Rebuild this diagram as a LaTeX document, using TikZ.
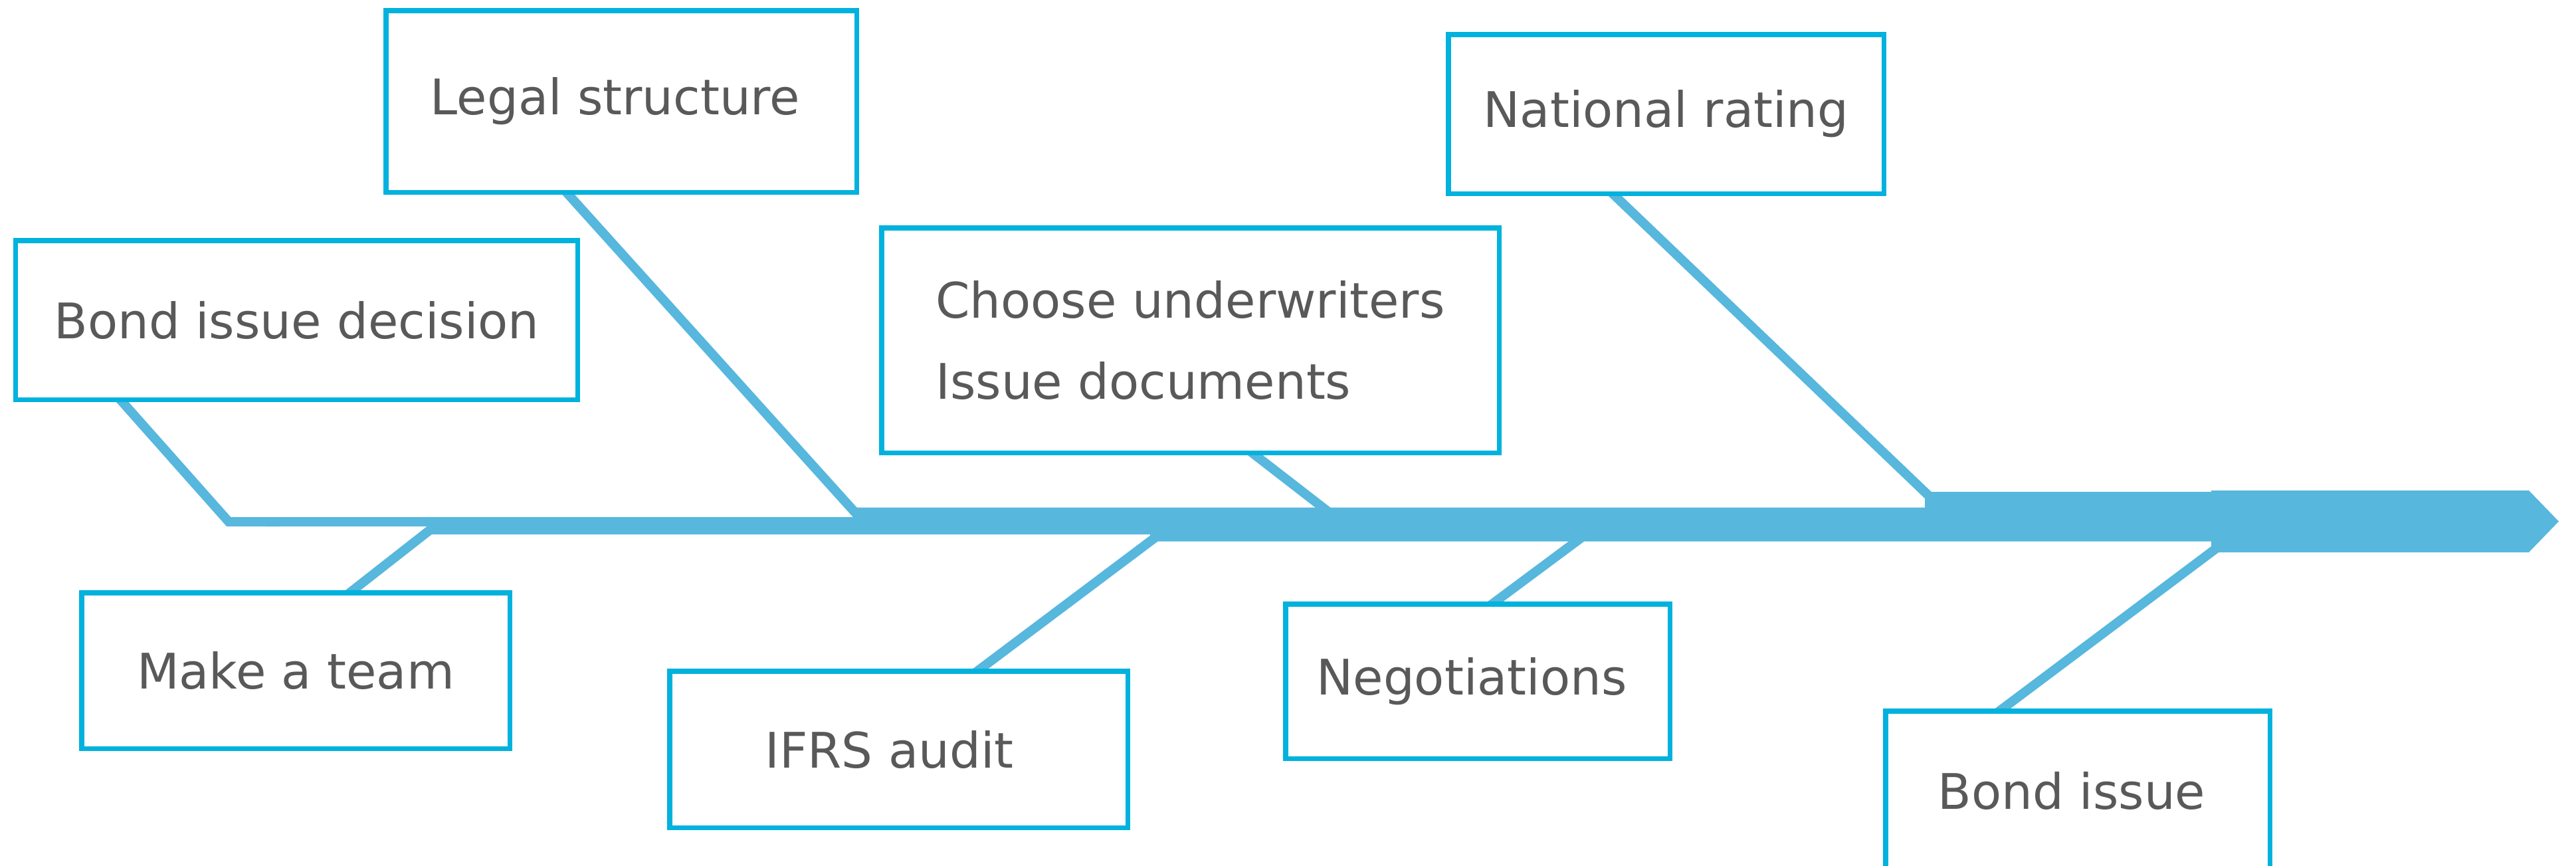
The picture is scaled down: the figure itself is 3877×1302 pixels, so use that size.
\documentclass[tikz,border=0pt]{standalone}
\usepackage{fontspec}
\setmainfont{DejaVu Sans}
\definecolor{spinec}{RGB}{87,183,221}
\definecolor{boxc}{RGB}{0,178,221}
\definecolor{textc}{RGB}{89,89,89}
\begin{document}
\begin{tikzpicture}[x=0.02cm,y=-0.02cm,
  box/.style={draw=boxc, line width=0.15cm, fill=white, text=textc, inner sep=0pt,
              font=\fontsize{42}{69}\selectfont, align=left},
  bx/.style 2 args={minimum width=#1*0.02cm, minimum height=#2*0.02cm},
  branch/.style={draw=spinec, line width=0.28cm, line cap=butt, line join=miter},
  spine/.style={fill=spinec, draw=none}]
\useasboundingbox (0,0) rectangle (3877,1302);

% branch coordinates
\coordinate (dA) at (166.6,585);
\coordinate (dB) at (344.2,785);
\coordinate (dC) at (420,785);
\coordinate (lA) at (835,270);
\coordinate (lB) at (1304,790);
\coordinate (cA) at (1870,670);
\coordinate (cB) at (2025,790);
\coordinate (rA) at (2410,275);
\coordinate (rB) at (2949,790);
\coordinate (tA) at (509.6,905);
\coordinate (tB) at (661.6,786);
\coordinate (iA) at (1450.7,1025);
\coordinate (iB) at (1757,795);
\coordinate (nA) at (2224,925);
\coordinate (nB) at (2405.6,790);
\coordinate (sA) at (2989,1085);
\coordinate (sB) at (3369,800);

% branches
\draw[branch] (dA) -- (dB) -- (dC);
\draw[branch] (lA) -- (lB);
\draw[branch] (cA) -- (cB);
\draw[branch] (rA) -- (rB);
\draw[branch] (tA) -- (tB);
\draw[branch] (iA) -- (iB);
\draw[branch] (nA) -- (nB);
\draw[branch] (sA) -- (sB);

% spine
\fill[spine] (400,778) -- (1285,778) -- (1285,763.5) -- (2897,763.5) -- (2897,740)
  -- (3328,740) -- (3328,738) -- (3806,738) -- (3851,784.5) -- (3806,831)
  -- (3328,831) -- (3328,814.5) -- (1731,814.5) -- (1731,804) -- (648,804)
  -- (648,792) -- (400,792) -- cycle;

% boxes
\node[box, bx={708.5}{273.5}] (legal) at (935,152.5) {Legal structure\kern0.36cm};
\node[box, bx={845.5}{239.5}] (decision) at (446.5,481.5) {Bond issue decision};
\node[box, bx={929.5}{338.5}] (choose) at (1791.5,512) {Choose underwriters\\Issue documents};
\node[box, bx={655.5}{239.5}] (rating) at (2507.5,171.5) {National rating};
\node[box, bx={644.5}{234.5}] (team) at (445,1009) {Make a team};
\node[box, bx={689.5}{235.5}] (ifrs) at (1352.5,1127.5) {IFRS audit\kern0.56cm};
\node[box, bx={578.5}{232.5}] (nego) at (2224,1025) {Negotiations\kern0.36cm};
\node[box, bx={578.5}{240}] (issue) at (3127,1190) {Bond issue\kern0.36cm};
\end{tikzpicture}
\end{document}
